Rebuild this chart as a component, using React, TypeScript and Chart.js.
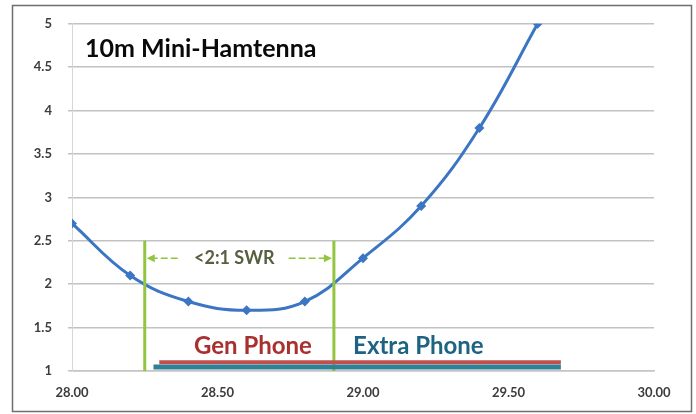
import React, { useEffect, useRef } from "react";
import { Chart, registerables } from "chart.js";

Chart.register(...registerables);

// ---- data ----
const freqs = [28.0, 28.2, 28.4, 28.6, 28.8, 29.0, 29.2, 29.4, 29.6];
const swr = [2.7, 2.1, 1.8, 1.7, 1.8, 2.3, 2.9, 3.8, 5.0];
const swrEdges = [28.25, 28.9];
const swrEdgeRange = [1.0, 2.5];
const genPhoneBand = [28.3, 29.68];
const genPhoneLevel = 1.1;
const extraPhoneBand = [28.28, 29.68];
const extraPhoneLevel = 1.045;
const yRange = [1, 5];
const xRange = [28, 30];
const titleText = "10m Mini-Hamtenna";
const titlePos = [28.045, 4.71];
const swrText = "<2:1 SWR";
const swrTextLevel = 2.3;
const genText = "Gen Phone";
const genTextX = 28.419;
const extraText = "Extra Phone";
const extraTextX = 28.966;
const bandTextLevel = 1.28;

const BLUE = "#3b75c4";
const GREEN = "#92c540";
const RED = "#c0504d";
const TEAL = "#2f8196";
const FONT = "Lato, 'Open Sans', sans-serif";

const decorPlugin = {
  id: "decor",
  beforeDraw(chart: any) {
    const { ctx, width, height } = chart;
    ctx.save();
    ctx.fillStyle = "#ffffff";
    ctx.fillRect(0, 0, width, height);
    ctx.strokeStyle = "#6e6e6e";
    ctx.lineWidth = 1.5;
    ctx.strokeRect(12.5, 5.5, 679, 406);
    ctx.restore();
  },
  afterDatasetsDraw(chart: any) {
    const { ctx } = chart;
    const xs = chart.scales.x;
    const ys = chart.scales.y;
    ctx.save();
    // title
    ctx.font = "bold 25px " + FONT;
    ctx.fillStyle = "#0a0a0a";
    ctx.textBaseline = "middle";
    ctx.textAlign = "left";
    ctx.fillText(titleText, xs.getPixelForValue(titlePos[0]), ys.getPixelForValue(titlePos[1]));

    // SWR annotation
    const xl = xs.getPixelForValue(swrEdges[0]);
    const xr = xs.getPixelForValue(swrEdges[1]);
    const ya = ys.getPixelForValue(swrTextLevel);
    const xm = (xl + xr) / 2 - 5;
    ctx.font = "bold 18px " + FONT;
    ctx.fillStyle = "#56603f";
    ctx.textAlign = "center";
    ctx.fillText(swrText, xm, ya);
    const tw = ctx.measureText(swrText).width;
    ctx.strokeStyle = GREEN;
    ctx.fillStyle = GREEN;
    ctx.lineWidth = 1.5;
    ctx.setLineDash([7, 3]);
    ctx.beginPath();
    ctx.moveTo(xl + 6, ya);
    ctx.lineTo(xm - tw / 2 - 14, ya);
    ctx.moveTo(xm + tw / 2 + 14, ya);
    ctx.lineTo(xr - 6, ya);
    ctx.stroke();
    ctx.setLineDash([]);
    ctx.beginPath();
    ctx.moveTo(xl + 2, ya);
    ctx.lineTo(xl + 10, ya - 4);
    ctx.lineTo(xl + 10, ya + 4);
    ctx.closePath();
    ctx.fill();
    ctx.beginPath();
    ctx.moveTo(xr - 2, ya);
    ctx.lineTo(xr - 10, ya - 4);
    ctx.lineTo(xr - 10, ya + 4);
    ctx.closePath();
    ctx.fill();

    // band labels
    const yb = ys.getPixelForValue(bandTextLevel);
    ctx.font = "bold 24px " + FONT;
    ctx.textAlign = "left";
    ctx.fillStyle = "#a8302e";
    ctx.fillText(genText, xs.getPixelForValue(genTextX), yb);
    ctx.fillStyle = "#1e6482";
    ctx.fillText(extraText, xs.getPixelForValue(extraTextX), yb);
    ctx.restore();
  },
};

export default function App() {
  const ref = useRef<HTMLCanvasElement | null>(null);
  useEffect(() => {
    if (!ref.current) return;
    const seg = (xa: number[], ya: number[]) => [
      { x: xa[0], y: ya[0] },
      { x: xa[1], y: ya[1] },
    ];
    const tickFont = { family: "Lato, 'Liberation Sans', sans-serif", size: 13, weight: "bold" };
    const chart = new Chart(ref.current, {
      type: "line",
      data: {
        datasets: [
          {
            data: seg(extraPhoneBand, [extraPhoneLevel, extraPhoneLevel]),
            borderColor: TEAL,
            borderWidth: 5,
            pointRadius: 0,
            tension: 0,
          },
          {
            data: seg(genPhoneBand, [genPhoneLevel, genPhoneLevel]),
            borderColor: RED,
            borderWidth: 4,
            pointRadius: 0,
            tension: 0,
          },
          {
            data: seg([swrEdges[0], swrEdges[0]], swrEdgeRange),
            borderColor: GREEN,
            borderWidth: 3,
            pointRadius: 0,
            tension: 0,
          },
          {
            data: seg([swrEdges[1], swrEdges[1]], swrEdgeRange),
            borderColor: GREEN,
            borderWidth: 3,
            pointRadius: 0,
            tension: 0,
          },
          {
            data: freqs.map((f, i) => ({ x: f, y: swr[i] })),
            borderColor: BLUE,
            backgroundColor: BLUE,
            borderWidth: 3,
            pointStyle: "rectRot",
            pointRadius: 5,
            pointBorderWidth: 0,
            tension: 0.4,
          },
        ],
      },
      options: {
        responsive: false,
        animation: false,
        devicePixelRatio: 1,
        layout: { padding: { left: 0, right: 42, top: 23, bottom: 0 } },
        plugins: { legend: { display: false }, tooltip: { enabled: false } },
        scales: {
          x: {
            type: "linear",
            min: xRange[0],
            max: xRange[1],
            ticks: {
              stepSize: 0.5,
              callback: (v: any) => Number(v).toFixed(2),
              font: tickFont,
              color: "#3c3c3c",
              padding: 10,
              maxRotation: 0,
            },
            grid: { display: false, drawTicks: true, tickLength: 4 },
            border: { display: true, color: "#c4c4c4", width: 1.5 },
            afterFit: (s: any) => {
              s.height = 43;
            },
          },
          y: {
            min: yRange[0],
            max: yRange[1],
            ticks: {
              stepSize: 0.5,
              callback: (v: any) => String(Number(v)),
              font: tickFont,
              color: "#3c3c3c",
              padding: 16,
            },
            grid: { color: "#c2c2c2", lineWidth: 1.5, tickLength: 4 },
            border: { display: true, color: "#d6d6d6", width: 1 },
            afterFit: (s: any) => {
              s.width = 72;
            },
          },
        },
      },
      plugins: [decorPlugin],
    } as any);
    return () => chart.destroy();
  }, []);
  return (
    <div style={{ position: "fixed", left: 0, top: 0, width: 696, height: 414, background: "#fff" }}>
      <canvas ref={ref} width={696} height={414} style={{ display: "block" }} />
    </div>
  );
}
